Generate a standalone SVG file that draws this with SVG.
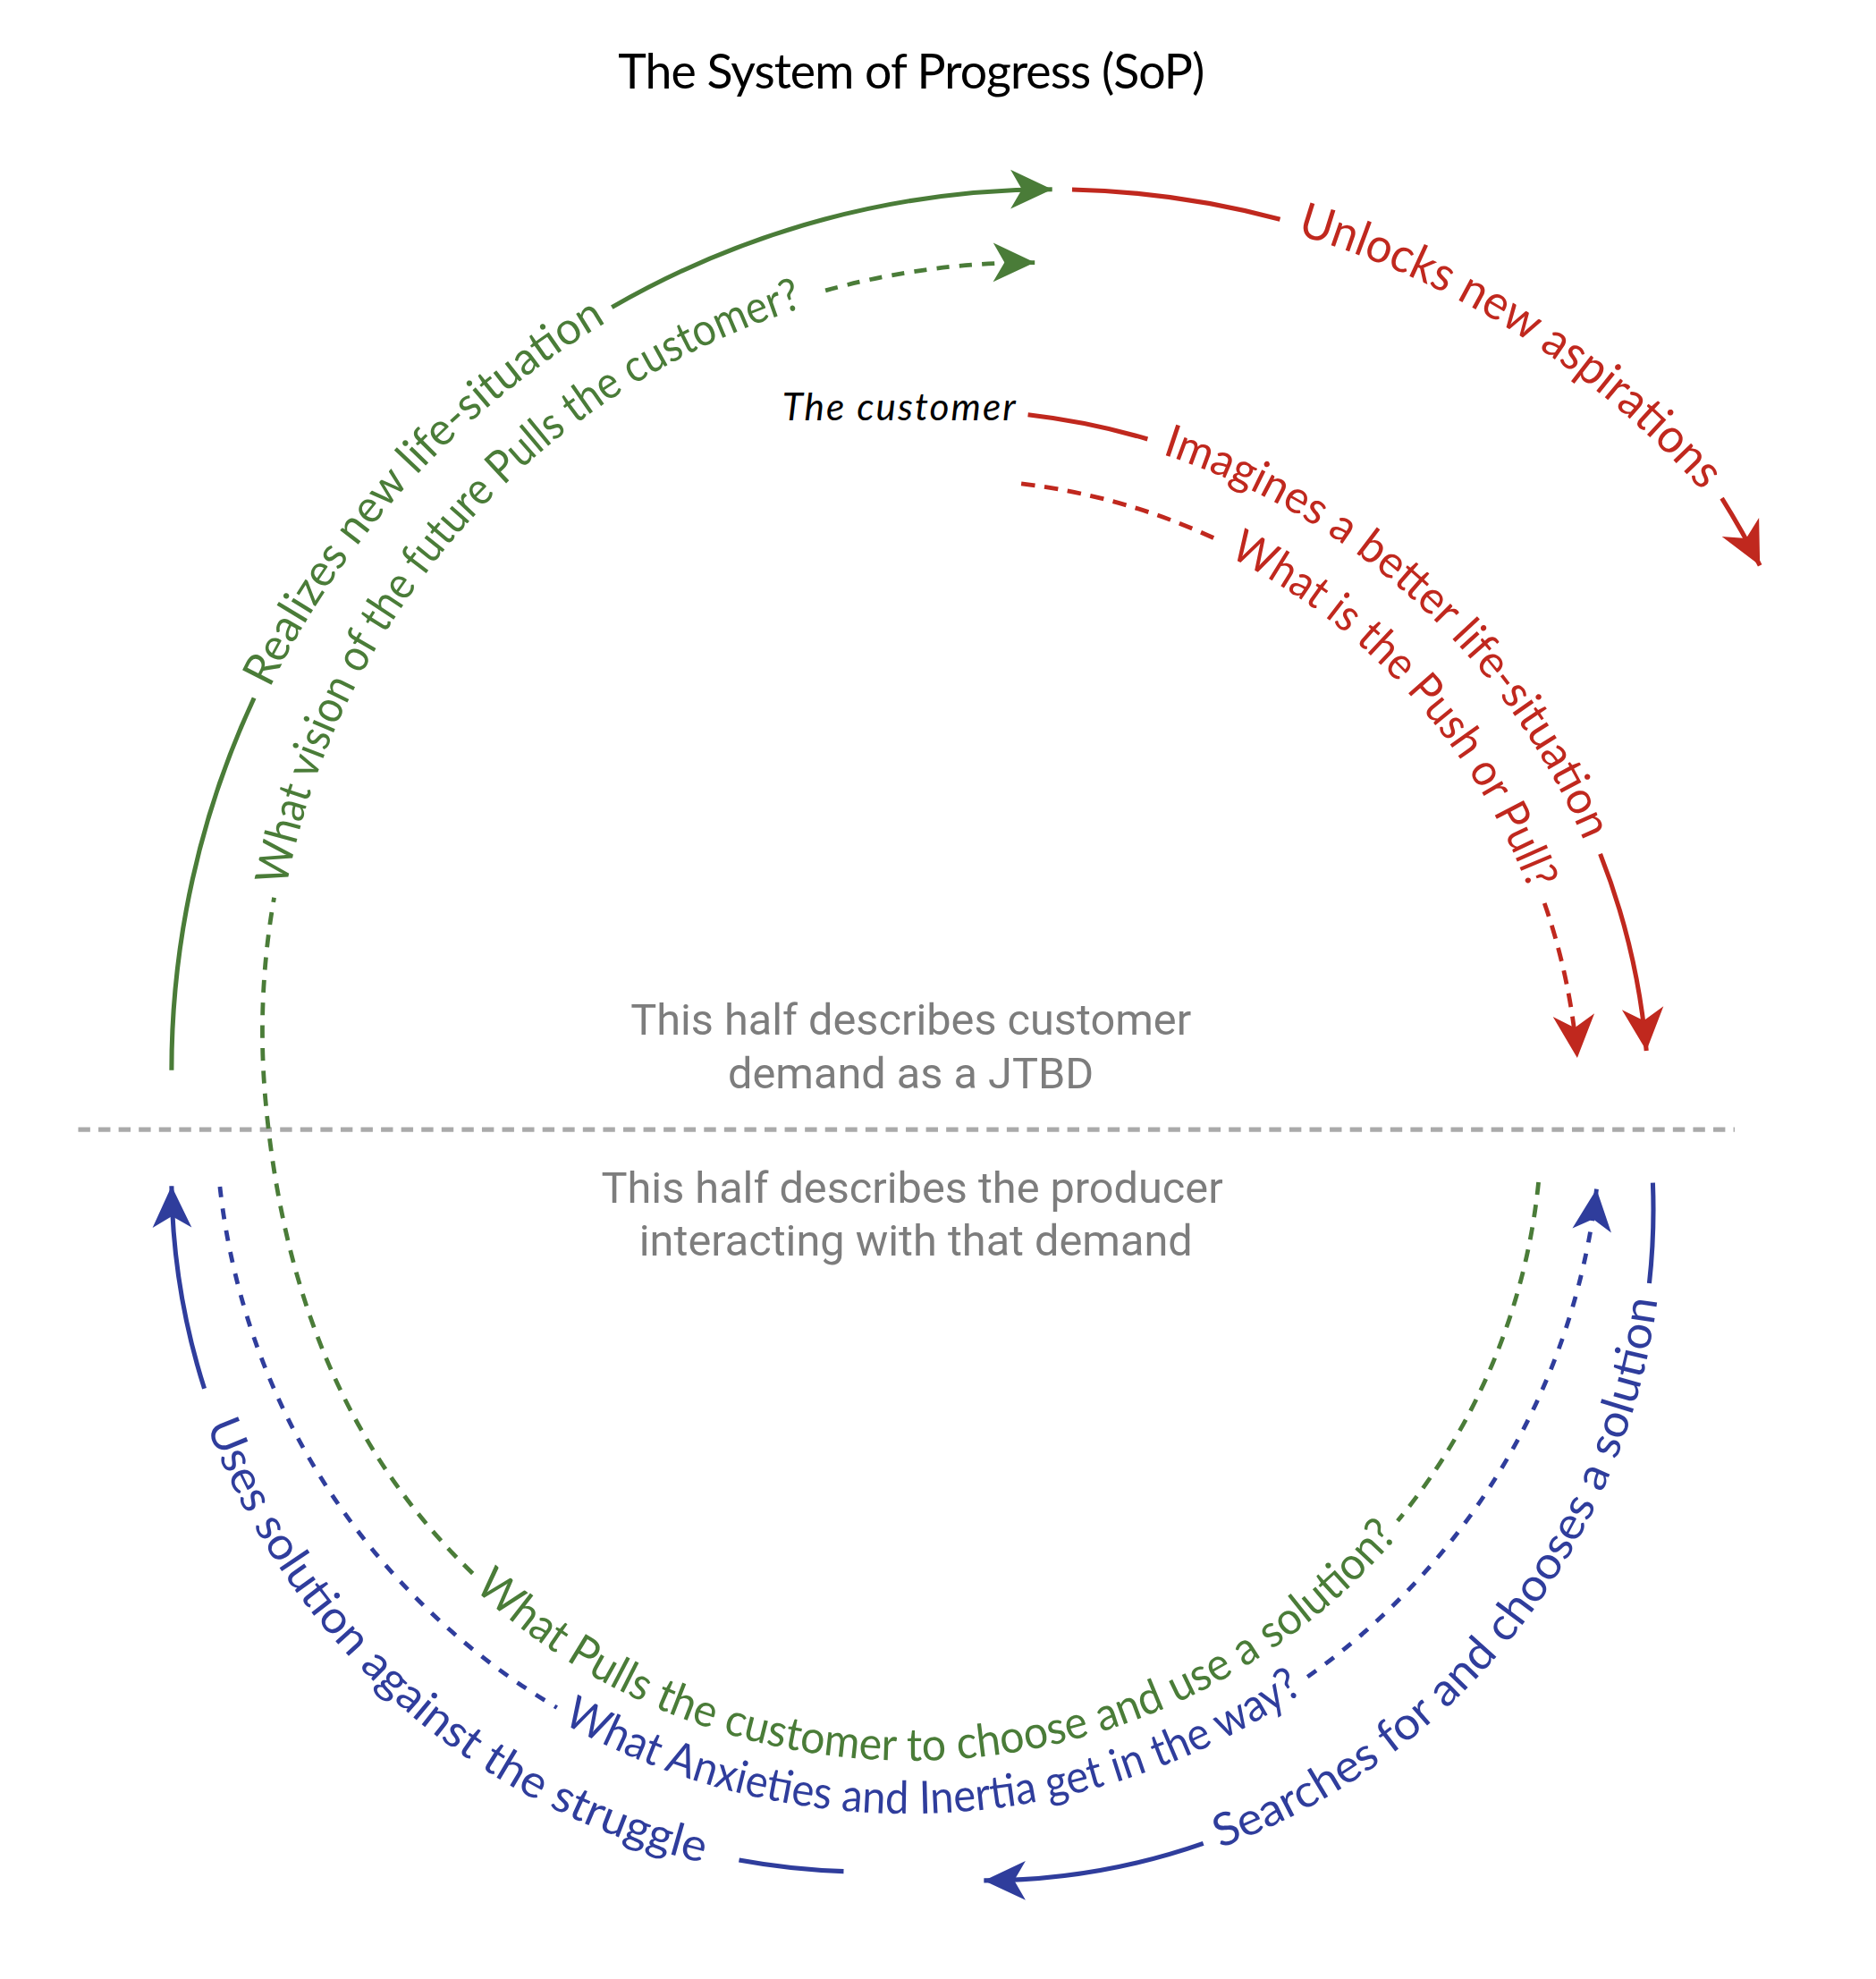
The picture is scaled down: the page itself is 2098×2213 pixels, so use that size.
<svg xmlns="http://www.w3.org/2000/svg" width="2098" height="2213" viewBox="0 0 2098 2213">
<style>
.ln{fill:none;stroke-width:3.6}
.ds{fill:none;stroke-width:3.4}
.gr{stroke:#4a7c38}
.rd{stroke:#c0281e}
.bl{stroke:#2f3d9c}
.dg{stroke-dasharray:10 8}
.dr{stroke-dasharray:11 7.5}
.db{stroke-dasharray:8.5 9}
.lab{font-family:Lato,"Noto Sans",sans-serif;font-size:36px}
.tg{fill:#4a7c38}
.tr{fill:#c0281e}
.tb{fill:#2f3d9c}
.mid{font-family:Roboto,"Liberation Sans",sans-serif;font-size:34.5px;fill:#7d7d7d;text-anchor:middle}
</style>
<defs>
<marker id="aG" viewBox="-36 -19 38 38" refX="0" refY="0" markerWidth="38" markerHeight="38" markerUnits="userSpaceOnUse" orient="auto"><path d="M0,0 L-33,-15.5 L-24,0 L-33,15.5 Z" fill="#4a7c38"/></marker>
<marker id="aR" viewBox="-36 -19 38 38" refX="0" refY="0" markerWidth="38" markerHeight="38" markerUnits="userSpaceOnUse" orient="auto"><path d="M0,0 L-34,-16.5 L-24,0 L-34,16.5 Z" fill="#c0281e"/></marker>
<marker id="aB" viewBox="-36 -19 38 38" refX="0" refY="0" markerWidth="38" markerHeight="38" markerUnits="userSpaceOnUse" orient="auto"><path d="M0,0 L-33,-15.5 L-24,0 L-33,15.5 Z" fill="#2f3d9c"/></marker>
<path id="tG1" d="M213.8,545.5 A690,690 0 0 1 533.7,226.8"/>
<path id="tR1" d="M1027.7,185.7 A690,690 0 0 1 1387.2,435.7"/>
<path id="tR2" d="M921,359.8 A547,547 0 0 1 1272.2,711"/>
<path id="tR3" d="M973.8,440.8 A492,492 0 0 1 1225.7,746.9"/>
<path id="tG2" d="M227,702.3 A601,601 0 0 1 686.9,230.2"/>
<path id="tG3" d="M375.5,1258.5 A508,508 0 0 0 1135.6,1182"/>
<path id="tB1" d="M967.1,1464.2 A539.5,539.5 0 0 0 1317.9,983"/>
<path id="tB2" d="M163.7,1129.3 A558,558 0 0 0 604.5,1485"/>
<path id="tB3" d="M445.7,1364.8 A557,557 0 0 0 1072,1311.6"/>
</defs>
<rect width="2098" height="2213" fill="#ffffff"/>
<g transform="scale(1.41089 1.41135)">
<g id="title"><text x="490" y="70" font-family="Lato,'Noto Sans',sans-serif" font-size="38" fill="#000" textLength="465">The System of Progress (SoP)</text></g>
<g id="divider"><line x1="62" y1="895" x2="1375" y2="895" stroke="#aaaaaa" stroke-width="3.8" stroke-dasharray="9.5 6.5"/></g>
<g id="half-top"><text class="mid" x="722" y="820">This half describes customer</text><text class="mid" x="722" y="862">demand as a JTBD</text></g>
<g id="half-bottom"><text class="mid" x="723" y="953">This half describes the producer</text><text class="mid" x="726" y="995">interacting with that demand</text></g>
<g id="connectors">
<path id="c-realizes" class="ln gr" marker-end="url(#aG)" d="M136,848 A698,698 0 0 1 201.4,553 M485,243.5 A698,698 0 0 1 834,150"/>
<path id="c-unlocks" class="ln rd" marker-end="url(#aR)" d="M849.8,150.2 A698,698 0 0 1 1014.6,173.8 M1364.8,394.7 A698,698 0 0 1 1395,448"/>
<path id="c-imagines" class="ln rd" marker-end="url(#aR)" d="M814.8,328.6 A555,555 0 0 1 909.6,347.9 M1268.4,676.6 A555,555 0 0 1 1305,832.6"/>
<path id="c-pushpull" class="ds rd dr" marker-end="url(#aR)" d="M809.5,383.3 A500,500 0 0 1 967.2,428.7 M1224.2,715.6 A500,500 0 0 1 1250.2,838.2"/>
<path id="c-pulls" class="ds gr dg" marker-end="url(#aG)" d="M1219.5,936.7 A500,500 0 0 1 1107.8,1205.1 M374.7,1246.7 C266.8,1142.5 222.5,1009.5 210.3,870.1 A609,609 0 0 1 217.3,711.2 M654.3,230.2 A609,609 0 0 1 820.2,208"/>
<path id="c-searches" class="ln bl" marker-end="url(#aB)" d="M1310.1,937.2 A531.5,531.5 0 0 1 1307.3,1016.8 M953.8,1460.5 A531.5,531.5 0 0 1 779.9,1490"/>
<path id="c-uses" class="ln bl" marker-end="url(#aB)" d="M668.7,1482.7 A550,550 0 0 1 585.8,1473.8 M162,1100.2 A550,550 0 0 1 136,939.7"/>
<path id="c-anxieties" class="ds bl db" marker-end="url(#aB)" d="M174.3,940.2 A549,549 0 0 0 441.4,1353 M1036.4,1328.6 A549,549 0 0 0 1265.5,942.1"/>
</g>
<g id="labels">
<g id="n-realizes"><text class="lab tg"><textPath href="#tG1" textLength="399.8" lengthAdjust="spacingAndGlyphs">Realizes new life-situation</textPath></text></g>
<g id="n-unlocks"><text class="lab tr" style="font-size:38px"><textPath href="#tR1" textLength="385.4" lengthAdjust="spacingAndGlyphs">Unlocks new aspirations</textPath></text></g>
<g id="n-customer"><text x="620" y="333" font-family="Lato,'Noto Sans',sans-serif" font-style="italic" font-size="30" fill="#000" textLength="185">The customer</text></g>
<g id="n-imagines"><text class="lab tr"><textPath href="#tR2" textLength="467.8" lengthAdjust="spacingAndGlyphs">Imagines a better life-situation</textPath></text></g>
<g id="n-pushpull"><text class="lab tr"><textPath href="#tR3" textLength="364.9" lengthAdjust="spacingAndGlyphs">What is the Push or Pull?</textPath></text></g>
<g id="n-vision"><text class="lab tg"><textPath href="#tG2" textLength="645.1" lengthAdjust="spacingAndGlyphs">What vision of the future Pulls the customer?</textPath></text></g>
<g id="n-pulls"><text class="lab tg"><textPath href="#tG3" textLength="820.1" lengthAdjust="spacingAndGlyphs">What Pulls the customer to choose and use a solution?</textPath></text></g>
<g id="n-searches"><text class="lab tb"><textPath href="#tB1" textLength="583.8" lengthAdjust="spacingAndGlyphs">Searches for and chooses a solution</textPath></text></g>
<g id="n-uses"><text class="lab tb"><textPath href="#tB2" textLength="545.4" lengthAdjust="spacingAndGlyphs">Uses solution against the struggle</textPath></text></g>
<g id="n-anxieties"><text class="lab tb"><textPath href="#tB3" textLength="619.3" lengthAdjust="spacingAndGlyphs">What Anxieties and Inertia get in the way?</textPath></text></g>
</g>
</g>
</svg>
